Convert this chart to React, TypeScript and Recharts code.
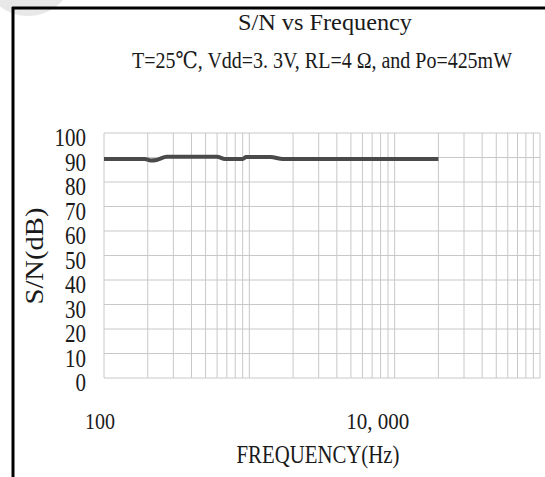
import { LineChart, Line, XAxis, YAxis, CartesianGrid } from 'recharts';

// measured S/N curve (Hz, dB)
const frequencies = [100, 190, 210, 230, 270, 600, 680, 900, 950, 1400, 1700, 20000];
const snValues = [89.4, 89.4, 88.8, 89.0, 90.3, 90.3, 89.4, 89.4, 90.2, 90.2, 89.4, 89.4];

// log grid lines, 100 Hz .. 100 kHz
const gridFrequencies = [
  100, 200, 300, 400, 500, 600, 700, 800, 900,
  1000, 2000, 3000, 4000, 5000, 6000, 7000, 8000, 9000,
  10000, 20000, 30000, 40000, 50000, 60000, 70000, 80000, 90000,
  100000,
];
const xLabelValues = [100, 10000];
const xLabelTexts = ['100', '10, 000'];

const yTicks = [0, 10, 20, 30, 40, 50, 60, 70, 80, 90, 100];

const chartData = frequencies.map((f, i) => ({ freq: f, sn: snValues[i] }));

const FONT = '"Liberation Serif", "DejaVu Serif", serif';
const INK = '#1a1a1a';

// label placement tweaks (the original labels are not centred on their ticks)
const xLabelLook: Record<number, { dx: number; width: number }> = {
  100: { dx: -4, width: 30 },
  10000: { dx: -17, width: 63 },
};

const XTick = (props: any) => {
  const { x, y, payload } = props;
  const i = xLabelValues.indexOf(payload.value);
  if (i < 0) return <g />;
  const look = xLabelLook[payload.value];
  return (
    <text
      x={x + look.dx}
      y={y + 51}
      textAnchor="middle"
      fontFamily={FONT}
      fontSize={24}
      fill={INK}
      textLength={look.width}
      lengthAdjust="spacingAndGlyphs"
    >
      {xLabelTexts[i]}
    </text>
  );
};

const YTick = (props: any) => {
  const { x, y, payload } = props;
  const label = String(payload.value);
  return (
    <text
      x={x - 18}
      y={y + 13}
      textAnchor="end"
      fontFamily={FONT}
      fontSize={25}
      fill={INK}
      textLength={label.length * 10.5}
      lengthAdjust="spacingAndGlyphs"
    >
      {label}
    </text>
  );
};

export default function App() {
  return (
    <div style={{ position: 'absolute', left: 0, top: 0, width: 545, height: 477, background: '#fff' }}>
      <LineChart
        width={545}
        height={477}
        data={chartData}
        margin={{ top: 133, right: 5, left: 44, bottom: 59 }}
      >
        <CartesianGrid stroke="#c8c8c8" strokeWidth={1} />
        <XAxis
          dataKey="freq"
          type="number"
          scale="log"
          domain={[100, 100000]}
          ticks={gridFrequencies}
          interval={0}
          allowDataOverflow
          axisLine={false}
          tickLine={false}
          tickSize={0}
          tickMargin={0}
          height={40}
          tick={<XTick />}
        />
        <YAxis
          type="number"
          domain={[0, 100]}
          ticks={yTicks}
          interval={0}
          axisLine={false}
          tickLine={false}
          tickSize={0}
          tickMargin={0}
          width={60}
          tick={<YTick />}
        />
        <Line
          dataKey="sn"
          type="monotone"
          stroke="#4a4a4a"
          strokeWidth={4}
          dot={false}
          isAnimationActive={false}
        />
      </LineChart>

      <svg
        width={545}
        height={477}
        style={{ position: 'absolute', left: 0, top: 0, pointerEvents: 'none' }}
      >
        <circle cx={28} cy={-30} r={46} fill="#e8e8e8" />
        <line x1={13} y1={7} x2={13} y2={477} stroke="#000" strokeWidth={3} />
        <line x1={12} y1={8} x2={545} y2={8} stroke="#000" strokeWidth={3} />

        <text
          x={325}
          y={30}
          textAnchor="middle"
          fontFamily={FONT}
          fontSize={24}
          fill={INK}
          textLength={174}
          lengthAdjust="spacingAndGlyphs"
        >
          S/N vs Frequency
        </text>
        <text
          x={322}
          y={68}
          textAnchor="middle"
          fontFamily={FONT}
          fontSize={23}
          fill={INK}
          textLength={380}
          lengthAdjust="spacingAndGlyphs"
        >
          T=25℃, Vdd=3. 3V, RL=4 Ω, and Po=425mW
        </text>
        <text
          x={318}
          y={463}
          textAnchor="middle"
          fontFamily={FONT}
          fontSize={25}
          fill={INK}
          textLength={163}
          lengthAdjust="spacingAndGlyphs"
        >
          FREQUENCY(Hz)
        </text>
        <text
          transform="translate(43,256) rotate(-90)"
          textAnchor="middle"
          fontFamily={FONT}
          fontSize={25}
          fill={INK}
          textLength={97}
          lengthAdjust="spacingAndGlyphs"
        >
          S/N(dB)
        </text>
      </svg>
    </div>
  );
}
